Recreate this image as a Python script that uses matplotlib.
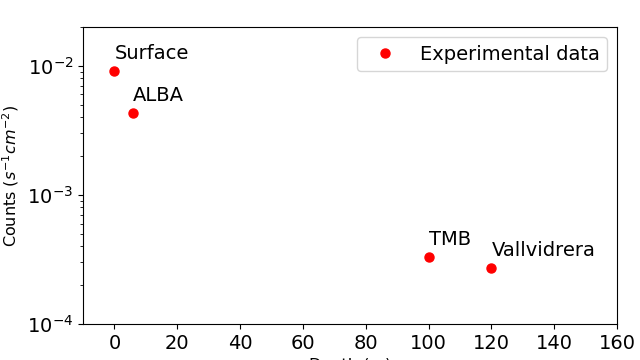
import matplotlib
matplotlib.use("Agg")
import matplotlib.pyplot as plt

sites = ["Surface", "ALBA", "TMB", "Vallvidrera"]
depth_m = [0, 6, 100, 120]
counts = [9.1e-3, 4.3e-3, 3.3e-4, 2.7e-4]

fig = plt.figure(figsize=(6.4, 3.6), dpi=100)
ax = fig.add_axes([83/640, 1 - 324/360, (617 - 83)/640, (324 - 27)/360])

ax.plot(depth_m, counts, 'o', color='red', markersize=6.5, label='Experimental data')
for name, x, y in zip(sites, depth_m, counts):
    ax.annotate(name, (x, y), textcoords='offset points', xytext=(0, 6),
                ha='left', va='bottom', fontsize=14)

ax.set_yscale('log')
ax.set_xlim(-10, 160)
ax.set_ylim(1e-4, 2e-2)
ax.set_xticks(range(0, 161, 20))
ax.tick_params(axis='both', labelsize=14)
ax.set_xlabel('Depth (m)', fontsize=11.5)
ax.set_ylabel(r'Counts ($s^{-1}cm^{-2}$)', fontsize=11.5)
ax.legend(loc='upper right', fontsize=14)

fig.savefig('out.png', dpi=100)
